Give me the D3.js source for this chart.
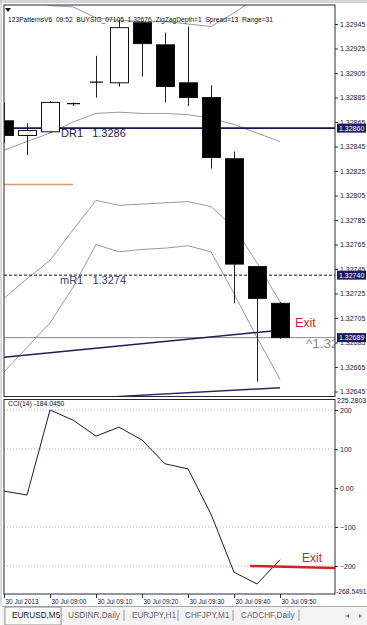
<!DOCTYPE html>
<html><head><meta charset="utf-8">
<script src="https://cdn.jsdelivr.net/npm/d3@7"></script>
<style>
html,body{margin:0;padding:0;background:#fff;}
svg{display:block;font-family:"Liberation Sans",Arial,sans-serif;}
</style></head><body>
<svg id="c" width="367" height="625"></svg>
<script>
// ---------- data ----------
const times = ["08:50","08:55","09:00","09:05","09:10","09:15","09:20","09:25","09:30","09:35","09:40","09:45","09:50"];
const opens  = [1.32866,1.32854,1.32857,1.32880,1.32897,1.32897,1.32946,1.32928,1.32897,1.32885,1.32835,1.32747,1.32717];
const highs  = [1.32881,1.32864,1.32882,1.32881,1.32919,1.32948,1.32947,1.32938,1.32943,1.32895,1.32841,1.32747,1.32718];
const lows   = [1.32848,1.32838,1.32856,1.32878,1.32885,1.32894,1.32902,1.32881,1.32878,1.32827,1.32717,1.32653,1.32688];
const closes = [1.32854,1.32858,1.32881,1.32880,1.32898,1.32942,1.32929,1.32894,1.32885,1.32836,1.32749,1.32721,1.32689];
const upperBand  = [1.32973,1.32966,1.32960,1.32959,1.32950,1.32948,1.32947,1.32947,1.32945,1.32943,1.32954,1.32967,1.32981];
const middleBand = [1.32842,1.32849,1.32856,1.32865,1.32872,1.32873,1.32872,1.32872,1.32871,1.32868,1.32863,1.32856,1.32849];
const bandA = [1.32721,1.32737,1.32752,1.32777,1.32801,1.32797,1.32798,1.32799,1.32800,1.32796,1.32779,1.32750,1.32718];
const bandB = [1.32661,1.32681,1.32701,1.32730,1.32765,1.32759,1.32761,1.32762,1.32764,1.32759,1.32725,1.32689,1.32655];
const cciValues = [-8,-18,200,174,133,156,123,62,49,-67,-216,-246,-184.045];
const priceTicks = [1.32945,1.32925,1.32905,1.32885,1.32865,1.32845,1.32825,1.32805,1.32785,1.32765,1.32745,1.32725,1.32705,1.32685,1.32665,1.32645];
const markedPrices = [1.32860,1.32740,1.32689];
const cciTicks = [200,100,0,-100,-200];
const cciLevels = [200,100,-100,-200];
const cciRange = [-268.5491,225.2803];
const timeTicks = ["08:50","09:00","09:10","09:20","09:30","09:40","09:50"];
const dr1 = {label:"DR1", price:1.3286};
const mr1 = {label:"mR1", price:1.3274};
const bidPrice = 1.32689;
const trend1 = [{t:"08:50",p:1.32673},{t:"09:50",p:1.32695}];
const trend2 = [{t:"09:10",p:1.32640},{t:"09:50",p:1.32648}];
const orangeLine = [{t:"08:50",p:1.32814},{t:"09:05",p:1.32814}];
const exitLine = [{t:"09:43:30",v:-200},{t:"10:02:00",v:-205}];
const infoText = "123PatternsV6  09:52  BUYSIG_07105  1.32676  ZigZagDepth=1  Spread=13  Range=31";
const cciLabel = "CCI(14) -184.0450";
const tabs = ["EURUSD,M5","USDINR,Daily","EURJPY,H1","CHFJPY,M1","CADCHF,Daily"];

// ---------- layout ----------
const svg = d3.select("#c");
const L = 4, R = 335, mainTop = 5, mainBot = 396.5, cciTop = 399.5, cciBot = 594;
const parseT = s => { const p = s.split(":").map(Number); return new Date(2013,6,30,p[0],p[1],p[2]||0); };
const x = d3.scaleTime().domain([parseT("08:50"), parseT("10:02")]).range([L, L + 331.2]);
const y = d3.scaleLinear().domain([1.32645, 1.32945]).range([391.5, 24]);
const yc = d3.scaleLinear().domain([-200, 200]).range([566, 410]);

// window borders
svg.append("rect").attr("x",0).attr("y",0).attr("width",367).attr("height",3).attr("fill","#d6d6d6");
svg.append("line").attr("x1",1).attr("x2",1).attr("y1",0).attr("y2",606).attr("stroke","#b8b8b8");

// clip paths
const defs = svg.append("defs");
defs.append("clipPath").attr("id","cm").append("rect").attr("x",L).attr("y",mainTop).attr("width",R-L).attr("height",mainBot-mainTop);
defs.append("clipPath").attr("id","cc").append("rect").attr("x",L).attr("y",cciTop).attr("width",R-L+1).attr("height",cciBot-cciTop);

const gm = svg.append("g").attr("clip-path","url(#cm)");
const idx = d3.range(times.length);
const line = arr => d3.line().x(i => x(parseT(times[i]))).y(i => y(arr[i]));

// bands
[upperBand, middleBand, bandA, bandB].forEach(b => {
  gm.append("path").attr("d", line(b)(idx)).attr("fill","none").attr("stroke","#9a9a9a").attr("stroke-width",1);
});

// horizontal levels
gm.append("line").attr("x1",L).attr("x2",R).attr("y1",y(dr1.price)).attr("y2",y(dr1.price)).attr("stroke","#15154a").attr("stroke-width",1.6);
gm.append("line").attr("x1",L).attr("x2",R).attr("y1",y(mr1.price)).attr("y2",y(mr1.price)).attr("stroke","#111").attr("stroke-width",1).attr("stroke-dasharray","3,2");
gm.append("line").attr("x1",L).attr("x2",R).attr("y1",y(bidPrice)).attr("y2",y(bidPrice)).attr("stroke","#8a8a8a").attr("stroke-width",1);
gm.append("path").attr("d", d3.line().x(d=>x(parseT(d.t))).y(d=>y(d.p))(orangeLine)).attr("stroke","#e0956e").attr("stroke-width",1.3).attr("fill","none");

// trend lines
gm.append("path").attr("d", d3.line().x(d=>x(parseT(d.t))).y(d=>y(d.p))(trend1)).attr("stroke","#1e1e55").attr("stroke-width",1.5).attr("fill","none");
gm.append("path").attr("d", d3.line().x(d=>x(parseT(d.t))).y(d=>y(d.p))(trend2)).attr("stroke","#2a2a5e").attr("stroke-width",1.5).attr("fill","none");

// candles
const bw = 18;
idx.forEach(i => {
  const cx = Math.round(x(parseT(times[i]))) + 0.5;
  gm.append("line").attr("x1",cx).attr("x2",cx).attr("y1",y(highs[i])).attr("y2",y(lows[i])).attr("stroke","#222").attr("stroke-width",1);
  const up = closes[i] >= opens[i];
  const top = y(Math.max(opens[i],closes[i])), bot = y(Math.min(opens[i],closes[i]));
  if (Math.abs(opens[i]-closes[i]) < 0.000015) {
    gm.append("line").attr("x1",cx-6.5).attr("x2",cx+6.5).attr("y1",(top+bot)/2).attr("y2",(top+bot)/2).attr("stroke","#111").attr("stroke-width",1.2);
  } else {
    gm.append("rect").attr("x",cx-bw/2).attr("y",top).attr("width",bw).attr("height",Math.max(1,bot-top))
      .attr("fill", up ? "#fff" : "#000").attr("stroke","#111").attr("stroke-width",1);
  }
});

// texts in main panel
gm.append("text").attr("x",61).attr("y",137).attr("font-size",11).attr("fill","#1c1c50").attr("xml:space","preserve").text(dr1.label + "   " + dr1.price.toFixed(4));
gm.append("text").attr("x",60).attr("y",284).attr("font-size",11).attr("fill","#3a4270").attr("xml:space","preserve").text(mr1.label + "   " + mr1.price.toFixed(4));
gm.append("text").attr("x",295).attr("y",327).attr("font-size",12.5).attr("fill","#c22a2e").text("Exit");
gm.append("text").attr("x",306).attr("y",348).attr("font-size",13.5).attr("fill","#8c8c8c").text("^" + bidPrice.toFixed(5));
gm.append("text").attr("x",8).attr("y",22).attr("font-size",7).attr("fill","#111").attr("xml:space","preserve")
  .attr("textLength",265).attr("lengthAdjust","spacingAndGlyphs").text(infoText);
gm.append("path").attr("d","M5,8 L11,8 L8,12 Z").attr("fill","#111");

// main frame
svg.append("rect").attr("x",L).attr("y",mainTop).attr("width",R-L).attr("height",mainBot-mainTop).attr("fill","none").attr("stroke","#2a2a3e").attr("stroke-width",1);

// price axis
const ay = svg.append("g").attr("transform",`translate(${R},0)`)
  .call(d3.axisRight(y).tickValues(priceTicks).tickSize(3).tickPadding(2).tickFormat(d3.format(".5f")));
ay.select(".domain").remove();
ay.selectAll("text").attr("font-size",7).attr("fill","#1a1a3a").attr("font-family","Liberation Sans, Arial");
ay.selectAll("line").attr("stroke","#333");
markedPrices.forEach(p => {
  svg.append("rect").attr("x",337).attr("y",y(p)-4.5).attr("width",29).attr("height",9).attr("fill","#1b1b5e");
  svg.append("text").attr("x",339).attr("y",y(p)+2.5).attr("font-size",7).attr("fill","#fff").text(p.toFixed(5));
});

// ---------- CCI panel ----------
const gc = svg.append("g").attr("clip-path","url(#cc)");
cciLevels.forEach(v => {
  gc.append("line").attr("x1",L).attr("x2",R).attr("y1",yc(v)).attr("y2",yc(v)).attr("stroke","#b0b0b0").attr("stroke-dasharray","1,2");
});
gc.append("path").attr("d", d3.line().x(i=>x(parseT(times[i]))).y(i=>yc(cciValues[i]))(idx)).attr("fill","none").attr("stroke","#1a1a40").attr("stroke-width",1);
gc.append("path").attr("d", d3.line().x(d=>x(parseT(d.t))).y(d=>yc(d.v))(exitLine)).attr("stroke","#d42222").attr("stroke-width",2.5).attr("fill","none");
gc.append("text").attr("x",302).attr("y",562).attr("font-size",12).attr("fill","#c22a2e").text("Exit");
gc.append("text").attr("x",8).attr("y",406).attr("font-size",6.8).attr("fill","#111").text(cciLabel);
svg.append("rect").attr("x",L).attr("y",cciTop).attr("width",R-L).attr("height",cciBot-cciTop).attr("fill","none").attr("stroke","#2a2a3e").attr("stroke-width",1);

const ac = svg.append("g").attr("transform",`translate(${R},0)`)
  .call(d3.axisRight(yc).tickValues(cciTicks).tickSize(3).tickPadding(2).tickFormat(v => v === 0 ? "0.00" : d3.format("d")(v)));
ac.select(".domain").remove();
ac.selectAll("text").attr("font-size",7).attr("fill","#1a1a3a").attr("font-family","Liberation Sans, Arial");
ac.selectAll("line").attr("stroke","#333");
svg.append("text").attr("x",337).attr("y",yc(cciRange[1])+3).attr("font-size",7).attr("fill","#1a1a3a").text(cciRange[1].toFixed(4));
svg.append("text").attr("x",336).attr("y",yc(cciRange[0])+1).attr("font-size",6.8).attr("fill","#1a1a3a").text(cciRange[0].toFixed(4));

// time axis
const fmtT = (d,i) => i === 0 ? "30 Jul 2013" : "30 Jul " + d3.timeFormat("%H:%M")(d);
const ax = svg.append("g").attr("transform",`translate(0,${cciBot})`)
  .call(d3.axisBottom(x).tickValues(timeTicks.map(parseT)).tickSize(4).tickFormat(fmtT));
ax.select(".domain").remove();
ax.selectAll("line").attr("stroke","#333");
ax.selectAll("text").attr("font-size",6.4).attr("fill","#1a1a3a").attr("text-anchor","start").attr("dx",1).attr("y",5).attr("font-family","Liberation Sans, Arial");

// tabs
svg.append("rect").attr("x",2).attr("y",606).attr("width",365).attr("height",19).attr("fill","#f3f3f3");
svg.append("line").attr("x1",2).attr("x2",367).attr("y1",606.5).attr("y2",606.5).attr("stroke","#a8a8a8");
svg.append("rect").attr("x",5).attr("y",607).attr("width",56).attr("height",18).attr("fill","#fff").attr("stroke","#8a8a8a");
const tabX = [12,68,132,185,241];
const sepX = [124,178,233,299];
tabs.forEach((t,i) => {
  svg.append("text").attr("x",tabX[i]).attr("y",618).attr("font-size",8.2).attr("fill", i===0 ? "#111" : "#6a6a6a").text(t);
});
sepX.forEach(sx => svg.append("line").attr("x1",sx).attr("x2",sx).attr("y1",610).attr("y2",621).attr("stroke","#999"));
svg.append("path").attr("d","M349,614 L346,616 L349,618 Z").attr("fill","#777");
svg.append("path").attr("d","M359,614 L362,616 L359,618 Z").attr("fill","#777");
</script>
</body></html>
